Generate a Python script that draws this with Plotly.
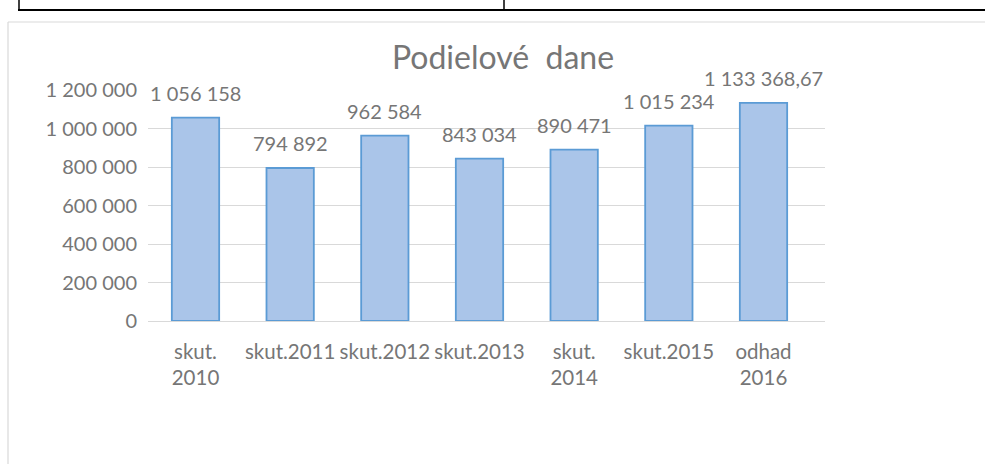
import plotly.graph_objects as go

categories = ["skut.<br>2010", "skut.2011", "skut.2012", "skut.2013", "skut.<br>2014", "skut.2015", "odhad<br>2016"]
values = [1056158, 794892, 962584, 843034, 890471, 1015234, 1133368.67]
value_labels = ["1 056 158", "794 892", "962 584", "843 034", "890 471", "1 015 234", "1 133 368,67"]
y_ticks = [0, 200000, 400000, 600000, 800000, 1000000, 1200000]
y_tick_labels = ["0", "200 000", "400 000", "600 000", "800 000", "1 000 000", "1 200 000"]

W, H = 985, 464
L, R, T, B = 148, 825, 90, 321
FONT = "Lato, 'Open Sans', sans-serif"
GREY = "#767676"

def px(x):
    return (x - L) / (R - L)

def py(y):
    return (B - y) / (B - T)

fig = go.Figure()
fig.add_trace(go.Bar(
    x=categories, y=values,
    marker=dict(color="#aac5e9", line=dict(color="#5b9bd5", width=1.8)),
    width=0.5, cliponaxis=False, hoverinfo="skip",
))

for c, v, t in zip(categories, values, value_labels):
    fig.add_annotation(x=c, y=v, text=t, showarrow=False, yanchor="bottom",
                       yshift=11, font=dict(size=20, color=GREY, family=FONT))

shapes = [
    # table lines at top
    dict(type="line", xref="paper", yref="paper", x0=px(18), x1=px(985), y0=py(10), y1=py(10),
         line=dict(color="black", width=2)),
    dict(type="line", xref="paper", yref="paper", x0=px(19), x1=px(19), y0=py(0), y1=py(10),
         line=dict(color="black", width=1.5)),
    dict(type="line", xref="paper", yref="paper", x0=px(504), x1=px(504), y0=py(0), y1=py(10),
         line=dict(color="black", width=1.5)),
    # chart frame
    dict(type="line", xref="paper", yref="paper", x0=px(8), x1=px(985), y0=py(22), y1=py(22),
         line=dict(color="#d9d9d9", width=1.2)),
    dict(type="line", xref="paper", yref="paper", x0=px(8), x1=px(8), y0=py(22), y1=py(464),
         line=dict(color="#d9d9d9", width=1.2)),
]

fig.update_layout(
    width=W, height=H,
    margin=dict(l=L, r=W - R, t=T, b=H - B, pad=0),
    paper_bgcolor="white", plot_bgcolor="white",
    showlegend=False,
    title=dict(text="Podielové  dane", x=503 / W, xanchor="center", y=1 - 58 / H, yanchor="middle",
               font=dict(size=32, color=GREY, family=FONT)),
    font=dict(family=FONT, color=GREY, size=20),
    xaxis=dict(showgrid=False, showline=False, ticks="", tickfont=dict(size=20.5, color=GREY, family=FONT),
               ticklabelstandoff=16),
    yaxis=dict(range=[0, 1200000], tickvals=y_ticks, ticktext=y_tick_labels,
               showgrid=True, gridcolor="#d9d9d9", gridwidth=1,
               zeroline=True, zerolinecolor="#d9d9d9", zerolinewidth=1,
               showline=False, ticks="", tickfont=dict(size=20, color=GREY, family=FONT),
               ticklabelstandoff=10),
    shapes=shapes,
)

fig.write_html("out.html", config={"displayModeBar": False},
               post_script="document.body.style.margin='0';document.body.style.overflow='hidden';")
